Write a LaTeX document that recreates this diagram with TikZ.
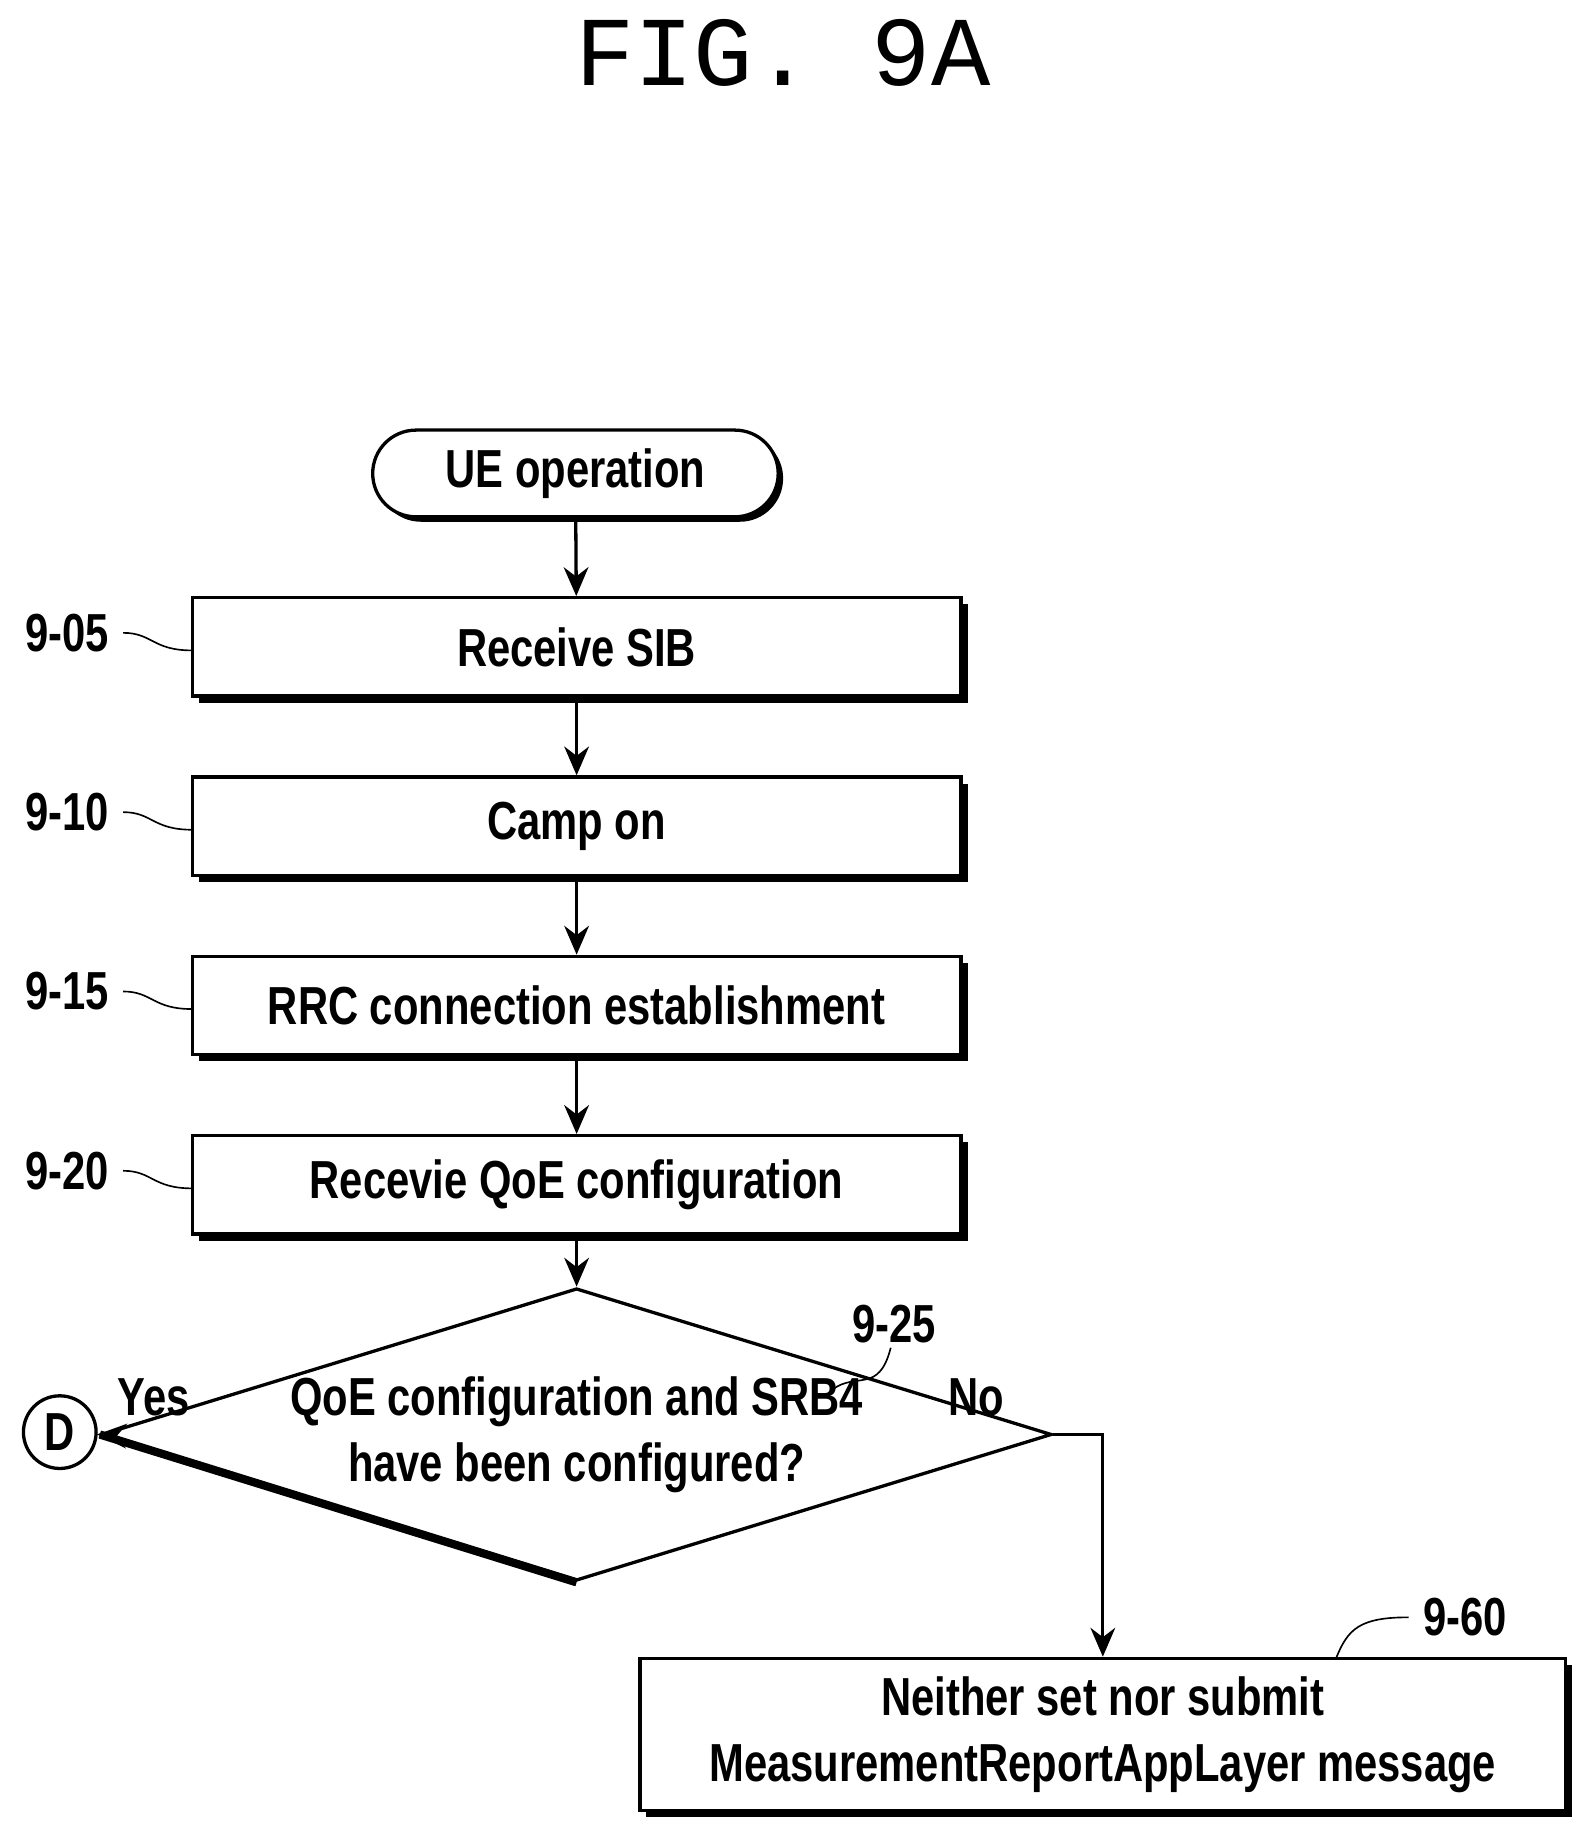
\documentclass[tikz,border=0pt]{standalone}
\usepackage{fontspec}
\setmainfont{Liberation Sans}[FakeStretch=0.78]
\newfontfamily\titlefont{Liberation Mono}
\usetikzlibrary{shapes.geometric,shadows,arrows.meta}
\begin{document}
\begin{tikzpicture}[
  every node/.style={font=\fontsize{13}{16}\selectfont\bfseries},
  procbox/.style={draw, thick, fill=white, minimum width=6.56cm, minimum height=0.84cm,
    general shadow={fill=black, shadow xshift=1.6pt, shadow yshift=-1.6pt}},
  tag/.style={font=\fontsize{13}{16}\selectfont\bfseries},
  flow/.style={-{Stealth[length=7pt,width=6pt]}, thick},
  lead/.style={thin}
]
\useasboundingbox (0,0) rectangle (13.6,15.7);

\node[font=\titlefont\fontsize{24}{28}\selectfont] (title) at (6.68,15.25) {FIG. 9A};

\node[draw, thick, rounded corners=0.37cm, minimum width=3.46cm, minimum height=0.74cm,
  general shadow={fill=black, shadow xshift=1.2pt, shadow yshift=-1.2pt}, fill=white]
  (start) at (4.91,11.66) {UE operation};
\node[procbox] (s05) at (4.92,10.18) {Receive SIB};
\node[procbox] (s10) at (4.92,8.65) {Camp on};
\node[procbox] (s15) at (4.92,7.12) {RRC connection establishment};
\node[procbox] (s20) at (4.92,5.59) {Recevie QoE configuration};
\node[draw, thick, diamond, aspect=3.25, inner sep=0pt, minimum width=6.56cm, minimum height=2.02cm,
  align=center] (d25) at (4.92,3.46) {QoE configuration and SRB4\\have been configured?};
\draw[line width=2pt] (d25.west) -- (d25.south);
\node[draw, thick, circle, minimum size=0.62cm, inner sep=0pt] (D) at (0.51,3.48) {D};
\node[procbox, minimum width=7.9cm, minimum height=1.3cm, align=center] (s60) at (9.41,0.9)
  {Neither set nor submit\\MeasurementReportAppLayer message};

\draw[flow] (start) -- (s05);
\draw[flow] (s05) -- (s10);
\draw[flow] (s10) -- (s15);
\draw[flow] (s15) -- (s20);
\draw[flow] (s20) -- (d25);
\draw[flow] (d25.west) -- (D);
\draw[flow] (d25.east) -| (s60.north);

\node[tag] (yes) at (1.31,3.78) {Yes};
\node[tag] (no) at (8.33,3.78) {No};

% reference numerals
\node[tag] (n05) at (0.57,10.3) {9-05};
\node[tag] (n10) at (0.57,8.77) {9-10};
\node[tag] (n15) at (0.57,7.24) {9-15};
\node[tag] (n20) at (0.57,5.71) {9-20};
\node[tag] (n25) at (7.63,4.4) {9-25};
\node[tag] (n60) at (12.5,1.9) {9-60};
\foreach \n/\y in {05/10.3,10/8.77,15/7.24,20/5.71}
  \draw[lead] (n\n.east) .. controls (1.3,\y) and (1.3,{\y-0.15}) .. (1.64,{\y-0.15});
\draw[lead] (7.6,4.2) .. controls (7.5,3.8) and (7.3,4.0) .. (7.1,3.84);
\draw[lead] (n60.west) .. controls (11.6,1.9) and (11.5,1.8) .. (11.4,1.55);
\end{tikzpicture}
\end{document}
